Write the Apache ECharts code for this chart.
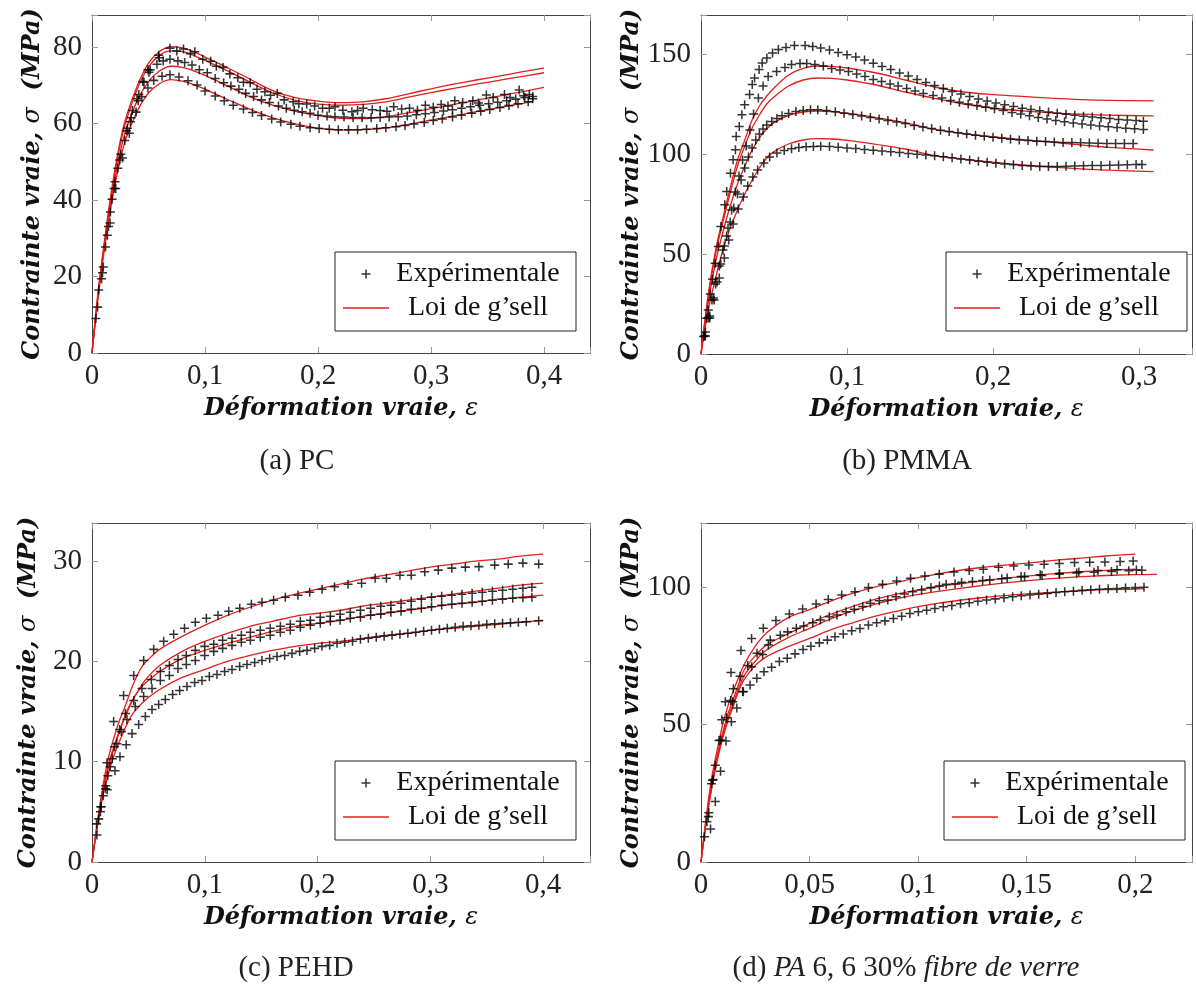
<!DOCTYPE html>
<html><head><meta charset="utf-8">
<script src="https://cdn.jsdelivr.net/npm/echarts@6/dist/echarts.min.js"></script>
<style>html,body{margin:0;padding:0;background:#fff}#c{width:1196px;height:986px}</style>
</head><body><div id="c"></div>
<script>
// ---------- (a) PC ----------
const pcFit1 = [[0,0],[0.005,15],[0.01,27],[0.015,38],[0.02,47.5],[0.025,55.5],[0.03,61.5],[0.04,69.8],[0.05,75.8],[0.06,78.9],[0.07,80.1],[0.08,79.8],[0.09,78.8],[0.1,77.4],[0.12,74.6],[0.14,71.6],[0.16,68.6],[0.18,66.8],[0.2,65.9],[0.22,65.5],[0.24,65.7],[0.26,66.5],[0.28,67.8],[0.3,69.1],[0.32,70.3],[0.34,71.4],[0.36,72.4],[0.38,73.5],[0.4,74.5]];
const pcFit2 = [[0,0],[0.005,14.5],[0.01,26.5],[0.015,37],[0.02,46.5],[0.025,54.5],[0.03,60.5],[0.04,69],[0.05,74.8],[0.06,77.9],[0.07,79],[0.08,78.8],[0.09,77.8],[0.1,76.5],[0.12,73.8],[0.14,70.8],[0.16,68],[0.18,66.1],[0.2,65.1],[0.22,64.8],[0.24,65],[0.26,65.7],[0.28,66.9],[0.3,68.1],[0.32,69.2],[0.34,70.3],[0.36,71.3],[0.38,72.3],[0.4,73.3]];
const pcFit3 = [[0,0],[0.005,14],[0.01,26],[0.015,36],[0.02,45],[0.025,52.5],[0.03,58.3],[0.04,66],[0.05,71],[0.06,73.8],[0.07,75],[0.08,74.7],[0.09,73.8],[0.1,72.6],[0.12,69.8],[0.14,67],[0.16,64.8],[0.18,63.2],[0.2,62.1],[0.22,61.4],[0.24,61.3],[0.26,61.8],[0.28,62.8],[0.3,63.9],[0.32,65],[0.34,66.1],[0.36,67.2],[0.38,68.3],[0.4,69.5]];
const pcFit4 = [[0,0],[0.005,13.5],[0.01,25],[0.015,35],[0.02,43.5],[0.025,50.5],[0.03,56],[0.04,63.2],[0.05,68],[0.06,70.5],[0.07,71.5],[0.08,71.1],[0.09,70.2],[0.1,69],[0.12,66.3],[0.14,63.7],[0.16,61.5],[0.18,59.9],[0.2,58.8],[0.22,58.3],[0.24,58.4],[0.26,58.9],[0.28,59.8],[0.3,60.9],[0.32,62],[0.34,63.1],[0.36,64.2],[0.38,65.2],[0.39,65.8]];
const pcExp1 = [[0.0034,9],[0.0085,19.4],[0.0136,30.8],[0.0177,40.2],[0.0228,48.3],[0.0306,58.1],[0.0357,63.4],[0.0415,67.6],[0.0504,73.4],[0.0595,77.2],[0.069,79.7],[0.081,79.5],[0.091,78.8],[0.105,76.3],[0.116,74.7],[0.129,72],[0.14,70.7],[0.153,68.3],[0.164,67.9],[0.178,65.7],[0.19,65.1],[0.204,64],[0.215,64.4],[0.23,63.1],[0.24,64],[0.255,63.4],[0.267,64.4],[0.281,64],[0.295,64.8],[0.309,65],[0.321,66],[0.337,66],[0.349,67.5],[0.365,67.6],[0.378,68.8],[0.387,67.6]];
const pcExp2 = [[0.006,16.5],[0.012,27.7],[0.0163,36.9],[0.0204,44.8],[0.0255,52],[0.0313,58.8],[0.0347,61.5],[0.041,66],[0.046,70.8],[0.0515,74],[0.0575,75.5],[0.063,76.4],[0.069,76.8],[0.076,76.4],[0.082,76],[0.0885,75.3],[0.095,74.1],[0.102,73.3],[0.109,71.8],[0.1165,70.7],[0.123,69.8],[0.13,69],[0.136,67.9],[0.143,67.1],[0.15,66.2],[0.157,65.5],[0.165,64.6],[0.172,64],[0.179,63.5],[0.186,63.1],[0.193,62.7],[0.2,62.2],[0.208,62],[0.215,61.8],[0.223,61.7],[0.231,61.6],[0.239,61.6],[0.247,61.5],[0.255,61.6],[0.263,61.7],[0.271,61.8],[0.279,62],[0.287,62.3],[0.295,62.6],[0.303,62.9],[0.311,63.3],[0.319,63.6],[0.327,64],[0.335,64.4],[0.343,64.8],[0.351,65.2],[0.359,65.6],[0.367,66],[0.375,66.4],[0.383,66.8],[0.39,67.1]];
const pcExp3 = [[0.005,12],[0.01,22.5],[0.016,34],[0.021,43],[0.027,51],[0.033,57.5],[0.039,63],[0.044,67],[0.0495,69.3],[0.0546,71.3],[0.062,72.4],[0.069,72.8],[0.077,72.2],[0.085,71.2],[0.093,70.1],[0.1,68.5],[0.109,67.2],[0.117,66],[0.125,64.8],[0.134,63.8],[0.142,62.9],[0.15,62.1],[0.159,61.2],[0.167,60.4],[0.176,59.8],[0.184,59.3],[0.193,58.9],[0.201,58.7],[0.21,58.5],[0.218,58.4],[0.227,58.4],[0.235,58.4],[0.243,58.5],[0.252,58.7],[0.26,58.9],[0.269,59.2],[0.277,59.5],[0.285,59.9],[0.294,60.3],[0.302,60.8],[0.31,61.2],[0.319,61.7],[0.327,62.2],[0.336,62.7],[0.344,63.2],[0.352,63.7],[0.361,64.2],[0.369,64.7],[0.377,65.2],[0.386,65.7]];
const pcExp4 = [[0.0093,21],[0.0146,33.1],[0.0195,43],[0.0245,50.5],[0.029,55.6],[0.034,60.5],[0.0398,66.5],[0.045,71],[0.0495,74.1],[0.059,77.9],[0.075,79],[0.087,78.3],[0.098,76.8],[0.11,75],[0.122,73],[0.134,70.8],[0.146,69],[0.158,67.4],[0.17,66.2],[0.183,65.2],[0.197,64.6],[0.21,64],[0.222,63.5],[0.235,63.4],[0.248,63.6],[0.261,63.2],[0.274,63.8],[0.288,63.5],[0.302,64.3],[0.315,64.6],[0.328,65.5],[0.342,65.4],[0.355,66.8],[0.37,66.8],[0.382,67.3],[0.39,66.5]];

// ---------- (b) PMMA ----------
const pmmaFit1 = [[0,0],[0.005,30],[0.01,52],[0.015,68],[0.02,83],[0.025,97],[0.03,107],[0.035,117],[0.04,124],[0.045,129],[0.05,133],[0.06,139.5],[0.07,142.8],[0.08,144],[0.09,143.8],[0.1,143],[0.12,140.5],[0.14,137],[0.16,133.5],[0.18,131],[0.2,129.7],[0.22,128.8],[0.24,127.9],[0.26,127.2],[0.28,126.8],[0.31,126.6]];
const pmmaFit2 = [[0,0],[0.005,29],[0.01,50],[0.015,66],[0.02,80.5],[0.025,94],[0.03,104],[0.035,113],[0.04,119.5],[0.045,125],[0.05,128.5],[0.06,134],[0.07,137],[0.08,138],[0.09,137.8],[0.1,137],[0.12,134.5],[0.14,131],[0.16,127.8],[0.18,125],[0.2,123],[0.22,121.6],[0.24,120.6],[0.26,119.9],[0.28,119.4],[0.31,119.1]];
const pmmaFit3 = [[0,0],[0.005,26],[0.01,46],[0.015,61],[0.02,74],[0.025,85],[0.03,94],[0.035,102],[0.04,108],[0.045,112.5],[0.05,115.7],[0.06,119.3],[0.07,121],[0.08,121.5],[0.09,121.2],[0.1,120.4],[0.12,118.2],[0.14,115.6],[0.16,112.3],[0.18,110.2],[0.2,108.5],[0.22,107.2],[0.24,105.9],[0.26,104.6],[0.28,103.3],[0.31,102]];
const pmmaFit4 = [[0,0],[0.005,22],[0.01,38],[0.015,52],[0.02,63],[0.025,72],[0.03,80],[0.035,87],[0.04,93],[0.045,98],[0.05,101.2],[0.06,105],[0.07,107],[0.08,107.7],[0.09,107.5],[0.1,106.8],[0.12,104.8],[0.14,102.5],[0.16,99.2],[0.18,97.4],[0.2,95.9],[0.22,94.6],[0.24,93.5],[0.26,92.6],[0.28,91.9],[0.31,91.2]];
const pmmaExp1 = [[0.0018,8.7],[0.0039,17.9],[0.005,22],[0.0063,30],[0.0079,37.4],[0.0097,45.4],[0.0118,53.7],[0.0136,63.7],[0.0163,74.6],[0.0176,81.3],[0.0202,90.4],[0.022,97.1],[0.0236,102.1],[0.0241,108.8],[0.0262,113.8],[0.028,119.6],[0.0299,124.6],[0.0333,129.7],[0.0351,134.7],[0.0367,138],[0.0398,142.2],[0.0419,145.5],[0.0451,148],[0.049,150.5],[0.053,152.2],[0.0582,153.3],[0.064,154.2],[0.0713,154.3],[0.0765,153.8],[0.082,153],[0.088,152],[0.094,150.8],[0.1,149.6],[0.106,148.5],[0.112,147],[0.118,145.4],[0.124,143.8],[0.13,142.2],[0.136,140.5],[0.142,139],[0.148,137.3],[0.154,135.8],[0.16,134.3],[0.166,132.8],[0.172,131.3],[0.178,130],[0.184,128.7],[0.19,127.5],[0.196,126.5],[0.202,125.5],[0.208,124.6],[0.214,123.7],[0.22,122.9],[0.226,122.2],[0.232,121.6],[0.238,121],[0.244,120.4],[0.25,119.9],[0.256,119.4],[0.262,118.9],[0.268,118.5],[0.274,118.1],[0.28,117.7],[0.286,117.3],[0.292,117],[0.298,116.7],[0.303,116.4]];
const pmmaExp2 = [[0.003,11],[0.006,19],[0.0085,28],[0.011,36],[0.0135,45],[0.016,54],[0.0185,63],[0.021,72],[0.0235,81],[0.026,89],[0.0285,97],[0.031,104],[0.0335,112],[0.036,120],[0.0393,128],[0.0425,134],[0.046,138.7],[0.0518,141.2],[0.0575,143.3],[0.062,144.8],[0.0678,145.3],[0.0724,145.3],[0.078,144.8],[0.0838,144],[0.0895,142.8],[0.0952,142],[0.101,141.2],[0.1066,140],[0.1123,138.7],[0.118,137.3],[0.1237,136.2],[0.1295,135],[0.135,134],[0.1409,132.8],[0.1466,131.5],[0.1523,130.3],[0.159,129.2],[0.165,128],[0.171,126.8],[0.177,125.9],[0.183,125],[0.189,124.2],[0.195,123.4],[0.201,122.6],[0.207,121.7],[0.213,120.8],[0.219,120],[0.225,119.1],[0.231,118.2],[0.237,117.5],[0.243,116.8],[0.249,116.1],[0.255,115.5],[0.261,115],[0.267,114.5],[0.273,114],[0.279,113.6],[0.285,113.2],[0.291,112.9],[0.297,112.6],[0.303,112.3]];
const pmmaExp3 = [[0.0025,9],[0.005,18],[0.0075,27],[0.01,35],[0.0125,44],[0.015,52],[0.0175,59],[0.02,66],[0.0225,73],[0.025,80],[0.0275,87],[0.03,93],[0.0325,98.5],[0.035,103],[0.0375,107],[0.04,110],[0.0425,112.5],[0.045,114.5],[0.0485,116.3],[0.052,117.8],[0.0555,119.1],[0.06,120.3],[0.065,121.2],[0.07,121.8],[0.075,122.1],[0.08,122.1],[0.086,121.7],[0.092,121.1],[0.098,120.4],[0.104,119.8],[0.11,119],[0.116,118.3],[0.122,117.5],[0.128,116.8],[0.134,116],[0.14,115.2],[0.146,114.3],[0.152,113.5],[0.158,112.7],[0.164,111.9],[0.17,111.2],[0.176,110.6],[0.182,110],[0.188,109.4],[0.194,108.9],[0.2,108.4],[0.206,107.9],[0.212,107.4],[0.218,107],[0.224,106.7],[0.23,106.4],[0.236,106.2],[0.242,106],[0.248,105.8],[0.254,105.7],[0.26,105.6],[0.266,105.5],[0.272,105.4],[0.278,105.3],[0.284,105.3],[0.29,105.3],[0.296,105.3]];
const pmmaExp4 = [[0.003,9],[0.006,18],[0.009,27],[0.0125,38],[0.016,48],[0.019,57],[0.022,65],[0.0255,72.5],[0.029,78.5],[0.032,84],[0.0355,88.5],[0.0388,92],[0.043,95.5],[0.047,98.5],[0.052,100.5],[0.057,101.8],[0.062,102.6],[0.067,103.2],[0.072,103.6],[0.077,103.8],[0.082,103.9],[0.088,103.8],[0.094,103.4],[0.1,103],[0.106,102.7],[0.112,102.3],[0.118,101.9],[0.124,101.5],[0.13,101.1],[0.136,100.7],[0.142,100.3],[0.148,99.9],[0.154,99.5],[0.16,99.1],[0.166,98.6],[0.172,98.1],[0.178,97.5],[0.184,97],[0.19,96.4],[0.196,95.9],[0.202,95.4],[0.208,95],[0.214,94.6],[0.22,94.3],[0.226,94],[0.232,93.8],[0.238,93.8],[0.244,93.8],[0.25,93.9],[0.256,94],[0.262,94.1],[0.268,94.2],[0.274,94.3],[0.28,94.4],[0.286,94.5],[0.292,94.6],[0.298,94.7],[0.302,94.8]];

// ---------- (c) PEHD ----------
const pehdFit1 = [[0,0],[0.005,4.2],[0.01,7.8],[0.015,10.6],[0.02,12.6],[0.025,14.3],[0.03,15.7],[0.035,17.3],[0.04,18.6],[0.045,19.6],[0.05,20.2],[0.06,21.2],[0.08,22.5],[0.1,23.6],[0.12,24.6],[0.14,25.4],[0.16,26.1],[0.18,26.7],[0.2,27.2],[0.22,27.7],[0.24,28.2],[0.26,28.6],[0.28,29],[0.3,29.4],[0.32,29.7],[0.34,30],[0.36,30.2],[0.38,30.5],[0.4,30.7]];
const pehdFit2 = [[0,0],[0.005,4],[0.01,7.4],[0.015,9.9],[0.02,11.7],[0.025,13.3],[0.03,14.6],[0.035,15.9],[0.04,16.9],[0.045,17.8],[0.05,18.5],[0.06,19.6],[0.08,21],[0.1,22],[0.12,22.8],[0.14,23.5],[0.16,24],[0.18,24.5],[0.2,24.8],[0.22,25.1],[0.24,25.5],[0.26,25.8],[0.28,26.1],[0.3,26.4],[0.32,26.7],[0.34,27],[0.36,27.3],[0.38,27.6],[0.4,27.8]];
const pehdFit3 = [[0,0],[0.005,3.9],[0.01,7.2],[0.015,9.6],[0.02,11.5],[0.025,13.2],[0.03,14.8],[0.035,16],[0.04,16.9],[0.045,17.6],[0.05,18.1],[0.06,19],[0.08,20.3],[0.1,21.1],[0.12,21.8],[0.14,22.4],[0.16,23],[0.18,23.5],[0.2,23.8],[0.22,24.1],[0.24,24.5],[0.26,24.8],[0.28,25.1],[0.3,25.4],[0.32,25.7],[0.34,25.9],[0.36,26.2],[0.38,26.4],[0.4,26.6]];
const pehdFit4 = [[0,0],[0.005,3.7],[0.01,6.8],[0.015,9],[0.02,10.8],[0.025,12.2],[0.03,13.5],[0.035,14.6],[0.04,15.3],[0.045,15.9],[0.05,16.4],[0.06,17.2],[0.08,18.4],[0.1,19.2],[0.12,20],[0.14,20.6],[0.16,21.1],[0.18,21.5],[0.2,21.8],[0.22,22],[0.24,22.3],[0.26,22.6],[0.28,22.8],[0.3,23.1],[0.32,23.3],[0.34,23.5],[0.36,23.7],[0.38,23.9],[0.4,24.1]];
const pehdExp1 = [[0.0044,2.7],[0.0075,5.0],[0.0122,7.6],[0.0133,9.9],[0.0192,14.0],[0.028,16.6],[0.037,18.6],[0.0458,20.1],[0.0547,21.2],[0.0635,22.0],[0.0724,22.7],[0.082,23.3],[0.0916,23.9],[0.1014,24.3],[0.1117,24.6],[0.1212,25.0],[0.131,25.3],[0.1413,25.7],[0.1507,25.9],[0.161,26.1],[0.1714,26.4],[0.1826,26.6],[0.193,26.9],[0.204,27.2],[0.215,27.45],[0.227,27.7],[0.239,27.8],[0.251,28.3],[0.261,28.3],[0.273,28.6],[0.283,28.6],[0.295,28.95],[0.307,29.1],[0.319,29.3],[0.331,29.4],[0.343,29.45],[0.357,29.6],[0.369,29.7],[0.382,29.8],[0.396,29.7]];
const pehdExp2 = [[0.004,3.8],[0.008,5.5],[0.012,7.3],[0.016,9.5],[0.02,11.5],[0.0245,13.2],[0.0296,14.8],[0.037,16.1],[0.0443,17.3],[0.0526,18.2],[0.0606,19.0],[0.0686,19.6],[0.0762,20.2],[0.0836,20.6],[0.0916,21.1],[0.0999,21.5],[0.1079,21.7],[0.1158,22.1],[0.1241,22.3],[0.1324,22.6],[0.1404,22.9],[0.1492,23.1],[0.158,23.3],[0.167,23.5],[0.1758,23.7],[0.1847,24.0],[0.1936,24.1],[0.2024,24.4],[0.2113,24.5],[0.22,24.7],[0.229,24.9],[0.238,25.1],[0.247,25.3],[0.256,25.5],[0.265,25.6],[0.274,25.8],[0.283,26],[0.292,26.2],[0.301,26.4],[0.31,26.5],[0.319,26.6],[0.328,26.7],[0.337,26.8],[0.346,26.9],[0.355,27],[0.364,27.1],[0.373,27.2],[0.382,27.3],[0.39,27.4]];
const pehdExp3 = [[0.006,4.3],[0.01,6.6],[0.014,8.6],[0.018,10.3],[0.022,11.8],[0.026,13],[0.031,14.2],[0.0384,15.5],[0.0458,16.5],[0.0532,17.3],[0.0606,18.1],[0.0686,18.6],[0.0762,19.3],[0.0836,19.7],[0.0916,20.1],[0.0999,20.6],[0.1079,21.0],[0.1158,21.3],[0.1241,21.6],[0.1324,21.9],[0.1404,22.1],[0.1492,22.4],[0.158,22.6],[0.167,22.9],[0.1758,23.1],[0.1847,23.4],[0.1936,23.6],[0.2024,23.8],[0.2113,24.0],[0.22,24.1],[0.229,24.3],[0.238,24.4],[0.247,24.6],[0.256,24.7],[0.265,24.9],[0.274,25],[0.283,25.2],[0.292,25.3],[0.301,25.45],[0.31,25.6],[0.319,25.7],[0.328,25.8],[0.337,25.9],[0.346,26],[0.355,26.1],[0.364,26.2],[0.373,26.3],[0.382,26.35],[0.39,26.4]];
const pehdExp4 = [[0.008,5.5],[0.0135,7.2],[0.0204,9.1],[0.0248,10.5],[0.0303,11.7],[0.0355,12.8],[0.0414,13.7],[0.0473,14.5],[0.0532,15.2],[0.0591,15.7],[0.065,16.2],[0.0715,16.7],[0.0777,17.1],[0.0842,17.5],[0.091,17.9],[0.0975,18.1],[0.104,18.5],[0.1108,18.7],[0.1176,19.0],[0.1241,19.2],[0.1309,19.5],[0.1374,19.7],[0.1442,19.9],[0.1507,20.1],[0.1575,20.3],[0.164,20.5],[0.1708,20.6],[0.1773,20.8],[0.1841,21.0],[0.1906,21.1],[0.1974,21.3],[0.2039,21.5],[0.2107,21.6],[0.2172,21.8],[0.224,21.9],[0.231,22.0],[0.238,22.2],[0.245,22.3],[0.252,22.4],[0.259,22.5],[0.266,22.6],[0.273,22.7],[0.28,22.8],[0.287,22.9],[0.294,23.0],[0.301,23.1],[0.308,23.2],[0.315,23.3],[0.322,23.4],[0.329,23.5],[0.336,23.55],[0.343,23.6],[0.35,23.7],[0.357,23.75],[0.364,23.8],[0.371,23.85],[0.378,23.9],[0.385,23.95],[0.396,24.05]];

// ---------- (d) PA 6,6 30% fibre de verre ----------
const paFit1 = [[0,0],[0.0025,17],[0.005,31],[0.0075,41],[0.01,50],[0.0125,57],[0.015,62.5],[0.0175,67.5],[0.02,72],[0.025,78.5],[0.03,83.2],[0.04,88.8],[0.05,91.8],[0.06,95],[0.07,97.8],[0.08,100],[0.09,101.7],[0.1,103.4],[0.11,104.9],[0.12,106.2],[0.13,107.2],[0.14,108],[0.15,108.7],[0.16,109.5],[0.17,110.2],[0.18,110.9],[0.19,111.5],[0.2,112]];
const paFit2 = [[0,0],[0.0025,16],[0.005,29],[0.0075,39],[0.01,47],[0.0125,54],[0.015,59.5],[0.0175,65],[0.02,70],[0.025,75],[0.03,78.8],[0.04,83],[0.05,86.8],[0.06,90.2],[0.07,93],[0.08,95.5],[0.09,97.4],[0.1,99],[0.11,100.3],[0.12,101.3],[0.13,102.3],[0.14,103.2],[0.15,104],[0.16,104.7],[0.17,105.3],[0.18,105.8],[0.19,106.2],[0.2,106.5]];
const paFit3 = [[0,0],[0.0025,15.5],[0.005,28],[0.0075,38],[0.01,46],[0.0125,52.5],[0.015,58],[0.0175,63.5],[0.02,68],[0.025,73],[0.03,77],[0.04,81.5],[0.05,85],[0.06,88.5],[0.07,91.3],[0.08,93.7],[0.09,95.7],[0.1,97.3],[0.11,98.5],[0.12,99.6],[0.13,100.6],[0.14,101.5],[0.15,102.3],[0.16,103],[0.17,103.5],[0.18,104],[0.19,104.3],[0.2,104.5],[0.21,104.6]];
const paFit4 = [[0,0],[0.0025,15],[0.005,27],[0.0075,37],[0.01,45],[0.0125,51.5],[0.015,57],[0.0175,62.5],[0.02,66.5],[0.025,71.5],[0.03,74.6],[0.04,78.3],[0.05,81.3],[0.06,84.5],[0.07,87],[0.08,89.3],[0.09,91.2],[0.1,92.9],[0.11,94.2],[0.12,95.3],[0.13,96.2],[0.14,96.9],[0.15,97.5],[0.16,98],[0.17,98.5],[0.18,98.9],[0.19,99.1],[0.2,99.3],[0.204,99.4]];
const paExp1 = [[0.0016,9.2],[0.0036,17.9],[0.0053,29.7],[0.0083,44.2],[0.0112,58.3],[0.0138,68.9],[0.0184,76.9],[0.0233,81.3],[0.0287,85],[0.0345,87.8],[0.0407,90.2],[0.0468,92],[0.053,93.8],[0.0586,95.5],[0.0648,97.1],[0.0709,98.3],[0.0771,99.8],[0.0836,101],[0.0901,102.2],[0.0965,103.2],[0.1031,104],[0.1097,104.7],[0.1165,105.5],[0.1235,106],[0.13,106.5],[0.137,107.2],[0.144,107.7],[0.151,108],[0.158,108.3],[0.165,108.6],[0.172,108.9],[0.179,109],[0.186,109.1],[0.193,109.3],[0.199,109.5]];
const paExp2 = [[0.0027,14.6],[0.0048,28.5],[0.0066,35.2],[0.0096,51.7],[0.0137,58.7],[0.0149,63],[0.018,67.6],[0.0215,71.5],[0.0258,75.9],[0.031,78.9],[0.0365,82.5],[0.0439,85],[0.0515,87],[0.0591,89.2],[0.0668,91],[0.0745,92.9],[0.0821,95],[0.0898,96.5],[0.0975,98.3],[0.1059,99.8],[0.1129,101],[0.12,101.7],[0.1297,102.4],[0.1385,103],[0.1474,103.8],[0.1562,104.5],[0.1651,105],[0.174,105.5],[0.1828,106],[0.1916,106.3],[0.2005,106.2]];
const paExp3 = [[0.0034,16.5],[0.0056,30],[0.0091,44.4],[0.0118,52.5],[0.0146,58.3],[0.0192,62],[0.0233,71],[0.0284,75.5],[0.0319,80.7],[0.0399,83.7],[0.0473,85.8],[0.055,88],[0.0626,89.8],[0.0706,91.9],[0.078,94.1],[0.086,95.3],[0.0937,97.5],[0.1016,98.9],[0.1098,100.4],[0.117,101.2],[0.125,102],[0.133,102.6],[0.141,103.3],[0.149,103.8],[0.157,104.2],[0.165,104.7],[0.173,105.1],[0.181,105.4],[0.189,105.7],[0.197,105.9],[0.203,106.1]];
const paExp4 = [[0.0044,12],[0.0066,22],[0.009,33],[0.0115,44],[0.014,51],[0.0165,56],[0.0195,61.9],[0.0226,64.4],[0.0257,66.8],[0.029,69.2],[0.0325,70.8],[0.0361,72.9],[0.0397,74.1],[0.0433,75.7],[0.047,77.3],[0.0506,78.5],[0.0545,79.7],[0.0582,80.7],[0.0617,81.9],[0.0655,82.9],[0.0694,84.1],[0.0732,84.9],[0.0771,86.2],[0.0809,87],[0.0847,87.7],[0.0886,88.6],[0.0924,89.4],[0.0962,90.4],[0.1001,91],[0.1039,91.6],[0.1077,92.2],[0.1116,92.8],[0.1155,93.3],[0.1195,93.9],[0.1235,94.3],[0.1275,94.8],[0.1315,95.3],[0.1355,95.7],[0.1395,96.1],[0.1435,96.5],[0.1475,96.8],[0.1515,97.1],[0.1555,97.4],[0.1595,97.7],[0.1635,98],[0.1675,98.3],[0.1715,98.5],[0.1755,98.8],[0.1795,99],[0.1835,99.2],[0.1875,99.4],[0.1915,99.5],[0.1955,99.7],[0.2,99.8],[0.204,99.9]];

const legendNames = ['Expérimentale', 'Loi de g\u2019sell'];
const xTitle = ['Déformation vraie, ', 'ε'];
const yTitle = ['Contrainte vraie, ', 'σ', '  (MPa)'];

// ---------- build ----------
const CROSS = 'path://M4.15,0H5.85V4.15H10V5.85H5.85V10H4.15V5.85H0V4.15H4.15Z';
const LINEICON = 'path://M0,0H46V1.3H0Z';
const RED = '#e0201e';
const SERIF = 'Liberation Serif';
const TITLEFONT = 'DejaVu Serif';

const panels = [
  {grid:{left:92, top:15, width:498, height:338}, xMax:0.4407, xInt:0.1, yMax:88.4, yInt:20, yGap:47,
   fits:[pcFit1,pcFit2,pcFit3,pcFit4], exps:[pcExp1,pcExp2,pcExp3,pcExp4], leg:{left:335, top:252},
   cap:{x:297, y:461, text:'{r|(a) PC}'}},
  {grid:{left:701, top:15, width:491, height:339}, xMax:0.3363, xInt:0.1, yMax:169.5, yInt:50, yGap:52,
   fits:[pmmaFit1,pmmaFit2,pmmaFit3,pmmaFit4], exps:[pmmaExp1,pmmaExp2,pmmaExp3,pmmaExp4], leg:{left:946, top:252},
   cap:{x:907, y:461, text:'{r|(b) PMMA}'}},
  {grid:{left:92, top:523, width:498, height:339}, xMax:0.4415, xInt:0.1, yMax:33.8, yInt:10, yGap:51,
   fits:[pehdFit1,pehdFit2,pehdFit3,pehdFit4], exps:[pehdExp1,pehdExp2,pehdExp3,pehdExp4], leg:{left:335, top:761},
   cap:{x:296, y:968, text:'{r|(c) PEHD}'}},
  {grid:{left:701, top:523, width:491, height:339}, xMax:0.2261, xInt:0.05, yMax:123.3, yInt:50, yGap:52,
   fits:[paFit1,paFit2,paFit3,paFit4], exps:[paExp1,paExp2,paExp3,paExp4], leg:{left:944, top:761},
   cap:{x:906, y:968, text:'{r|(d) }{i|PA}{r| 6, 6 30% }{i|fibre de verre}'}}
];

function fmt(step){
  return function(v){
    const k = Math.round(v/step);
    if (Math.abs(v - k*step) > 1e-7) return '';
    return String(+v.toFixed(4)).replace('.', ',');
  };
}
const richTitle = {
  b:{fontFamily:TITLEFONT, fontWeight:'bold', fontStyle:'italic', fontSize:24, color:'#111'},
  i:{fontFamily:TITLEFONT, fontWeight:'normal', fontStyle:'italic', fontSize:24, color:'#111'}
};
const axisLineStyle = {show:true, onZero:false, lineStyle:{color:'#444', width:1}};
const tickStyle = {show:true, inside:true, length:6, lineStyle:{color:'#9a9a9a', width:1}};
const labelStyle = {fontFamily:SERIF, fontSize:29, color:'#222'};

const option = {animation:false, backgroundColor:'#fff', grid:[], xAxis:[], yAxis:[], series:[], legend:[], graphic:[]};

panels.forEach(function(p, i){
  option.grid.push(Object.assign({show:false}, p.grid));
  option.xAxis.push({
    gridIndex:i, type:'value', min:0, max:p.xMax, interval:p.xInt, position:'bottom',
    axisLine:axisLineStyle, axisTick:tickStyle, splitLine:{show:false},
    axisLabel:Object.assign({margin:9, formatter:fmt(p.xInt)}, labelStyle),
    name:'{b|' + xTitle[0] + '}{i|' + xTitle[1] + '}', nameLocation:'middle', nameGap:44,
    nameTextStyle:{rich:richTitle}
  });
  option.xAxis.push({
    gridIndex:i, type:'value', min:0, max:p.xMax, interval:p.xInt, position:'top',
    axisLine:axisLineStyle, axisTick:tickStyle, splitLine:{show:false}, axisLabel:{show:false}
  });
  option.yAxis.push({
    gridIndex:i, type:'value', min:0, max:p.yMax, interval:p.yInt, position:'left',
    axisLine:axisLineStyle, axisTick:tickStyle, splitLine:{show:false},
    axisLabel:Object.assign({margin:10, formatter:fmt(p.yInt)}, labelStyle),
    name:'{b|' + yTitle[0] + '}{i|' + yTitle[1] + '}{b|' + yTitle[2] + '}', nameLocation:'middle', nameRotate:90, nameGap:p.yGap,
    nameTextStyle:{rich:richTitle}
  });
  option.yAxis.push({
    gridIndex:i, type:'value', min:0, max:p.yMax, interval:p.yInt, position:'right',
    axisLine:axisLineStyle, axisTick:tickStyle, splitLine:{show:false}, axisLabel:{show:false}
  });
  p.fits.forEach(function(d){
    option.series.push({
      type:'line', name:legendNames[1], xAxisIndex:2*i, yAxisIndex:2*i, data:d,
      symbol:'none', showSymbol:false, smooth:0.35, z:2, silent:true,
      lineStyle:{color:RED, width:1.3}, itemStyle:{color:RED}
    });
  });
  p.exps.forEach(function(d){
    option.series.push({
      type:'scatter', name:legendNames[0], xAxisIndex:2*i, yAxisIndex:2*i, data:d,
      symbol:CROSS, symbolSize:9, z:3, silent:true,
      itemStyle:{color:'#000'}
    });
  });
  option.legend.push({
    left:p.leg.left, top:p.leg.top, orient:'vertical', selectedMode:false,
    backgroundColor:'#fff', borderColor:'#222', borderWidth:1, borderRadius:0,
    padding:[8,14,9,8], itemGap:6, itemWidth:46, itemHeight:9,
    data:[{name:legendNames[0], icon:CROSS, itemStyle:{color:'#000'}}, {name:legendNames[1], icon:LINEICON, itemStyle:{color:RED}}],
    formatter:function(n){ return '{t|' + n + '}'; },
    textStyle:{fontFamily:SERIF, fontSize:28, color:'#111',
      rich:{t:{width:168, align:'center', fontFamily:SERIF, fontSize:28, color:'#111', lineHeight:30}}}
  });
  option.graphic.push({
    type:'text', x:p.cap.x, y:p.cap.y, silent:true,
    style:{text:p.cap.text, align:'center', verticalAlign:'middle', textAlign:'center', textVerticalAlign:'middle',
      rich:{
        r:{fontFamily:SERIF, fontSize:29, fill:'#222', color:'#222'},
        i:{fontFamily:SERIF, fontStyle:'italic', fontSize:29, fill:'#222', color:'#222'}
      }}
  });
});

const chart = echarts.init(document.getElementById('c'), null, {renderer:'canvas'});
chart.setOption(option);
</script>
</body></html>
